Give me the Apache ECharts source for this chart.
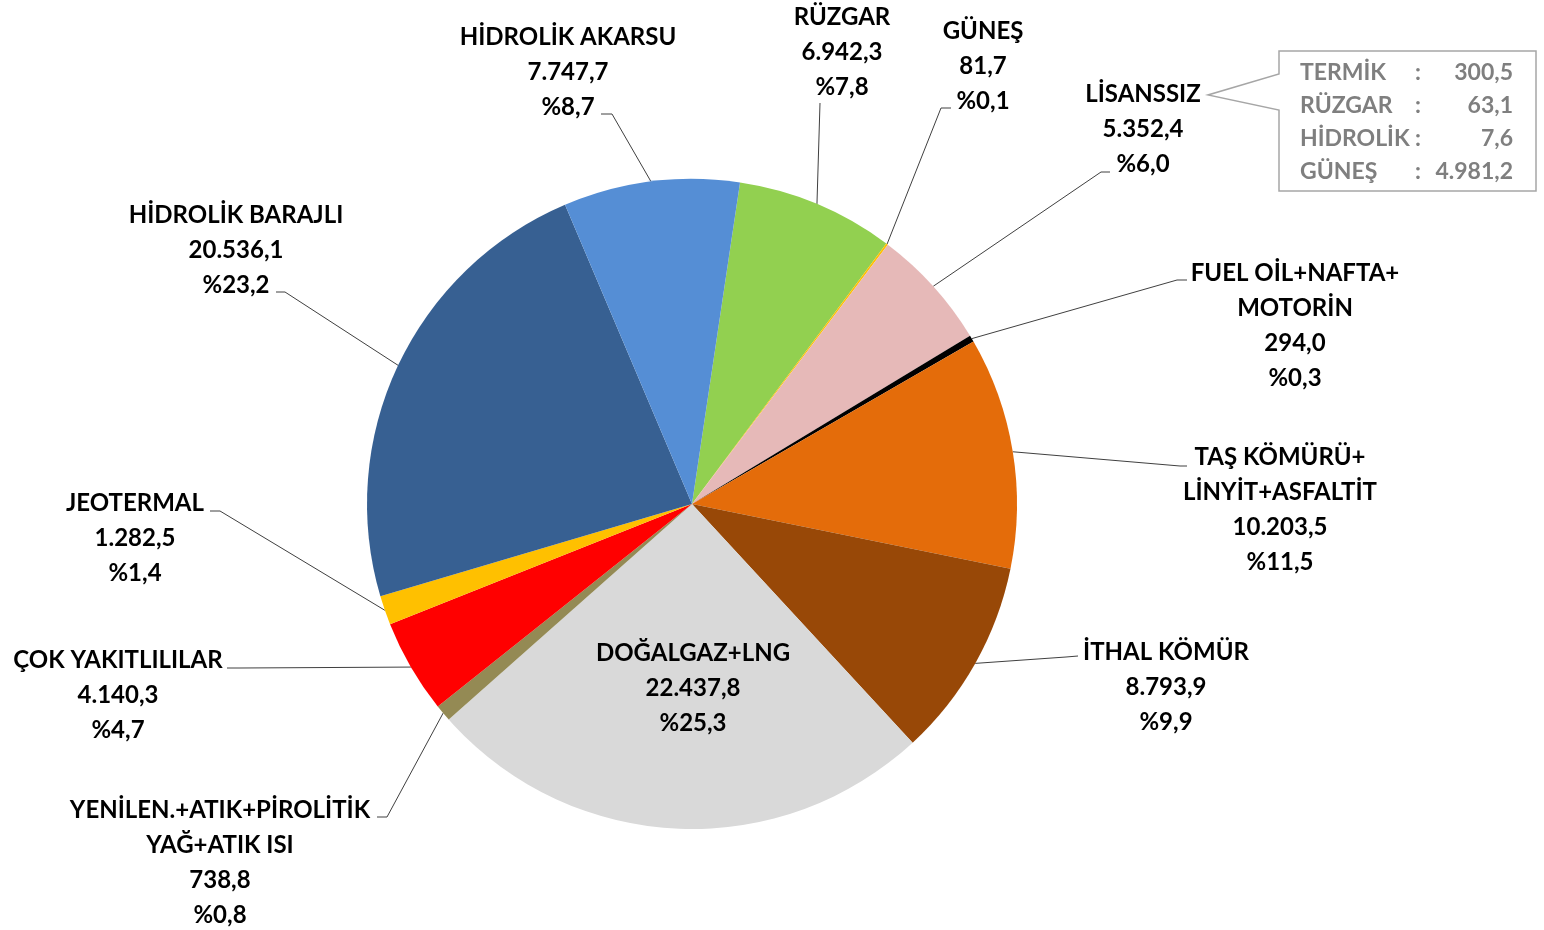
<!DOCTYPE html>
<html><head><meta charset="utf-8">
<script src="https://cdn.jsdelivr.net/npm/echarts@6/dist/echarts.min.js"></script>
<style>html,body{margin:0;padding:0;background:#fff}#c{width:1544px;height:930px}</style>
</head><body><div id="c"></div>
<script>
// ---- data ----
const categories = ['RÜZGAR', 'GÜNEŞ', 'LİSANSSIZ', 'FUEL OİL+NAFTA+\nMOTORİN', 'TAŞ KÖMÜRÜ+\nLİNYİT+ASFALTİT',
  'İTHAL KÖMÜR', 'DOĞALGAZ+LNG', 'YENİLEN.+ATIK+PİROLİTİK\nYAĞ+ATIK ISI', 'ÇOK YAKITLILILAR', 'JEOTERMAL',
  'HİDROLİK BARAJLI', 'HİDROLİK AKARSU'];
const values = [6942.3, 81.7, 5352.4, 294.0, 10203.5, 8793.9, 22437.8, 738.8, 4140.3, 1282.5, 20536.1, 7747.7];
const insetLabels = ['TERMİK', 'RÜZGAR', 'HİDROLİK', 'GÜNEŞ'];
const insetValues = [300.5, 63.1, 7.6, 4981.2];

// ---- styles / layout ----
const colors = ['#92D050', '#FFC000', '#E6B9B8', '#000000', '#E46C0A', '#984807', '#D9D9D9', '#948A54',
  '#FF0000', '#FFC000', '#376092', '#558ED5'];
// label block: center x, first line center y, leader line points after the slice edge
const labelPos = [
  { cx: 842, cy: 17, line: [[820, 103]] },
  { cx: 983, cy: 31, line: [[941, 108], [951, 108]] },
  { cx: 1143, cy: 94, line: [[1101, 172], [1110, 172]] },
  { cx: 1295, cy: 273, line: [[1177, 280], [1187, 280]] },
  { cx: 1280, cy: 457, line: [[1180, 466], [1187, 466]] },
  { cx: 1166, cy: 652, line: [[1066, 657], [1078, 656]] },
  { cx: 693, cy: 653, line: null },
  { cx: 220, cy: 810, line: [[387, 817], [377, 817]] },
  { cx: 118, cy: 660, line: [[240, 668], [227, 668]] },
  { cx: 135, cy: 503, line: [[220, 511], [210, 511]] },
  { cx: 236, cy: 215, line: [[285, 292], [276, 292]] },
  { cx: 568, cy: 37, line: [[612, 114], [601, 114]] }
];
const FONT = 'Lato, "Open Sans", sans-serif';
const LH = 35;
const CX = 692, CY = 504, R = 325, START = 81.5;

const total = values.reduce((a, b) => a + b, 0);
function fmt(v) {
  const s = v.toFixed(1).split('.');
  return s[0].replace(/\B(?=(\d{3})+(?!\d))/g, '.') + ',' + s[1];
}
function pct(v) { return '%' + (v / total * 100).toFixed(1).replace('.', ','); }

const chart = echarts.init(document.getElementById('c'), null, { renderer: 'canvas' });

const graphics = [{
  type: 'polygon',
  shape: { points: [[1279, 51], [1536, 51], [1536, 191], [1279, 191], [1279, 110], [1208, 95], [1279, 74]] },
  style: { fill: '#fff', stroke: '#A6A6A6', lineWidth: 1.5 }
}];
insetLabels.forEach((lab, i) => {
  const y = 73 + i * 33;
  const st = { fill: '#7F7F7F', font: 'bold 23px ' + FONT, textVerticalAlign: 'middle' };
  graphics.push({ type: 'text', left: null, x: 1300, y: y, style: Object.assign({ text: lab, textAlign: 'left' }, st) });
  graphics.push({ type: 'text', x: 1418, y: y, style: Object.assign({ text: ':', textAlign: 'center' }, st) });
  graphics.push({ type: 'text', x: 1513, y: y, style: Object.assign({ text: fmt(insetValues[i]), textAlign: 'right' }, st) });
});

chart.setOption({
  animation: false,
  backgroundColor: '#fff',
  graphic: graphics,
  series: [{
    type: 'pie',
    center: [CX, CY],
    radius: R,
    startAngle: START,
    clockwise: true,
    avoidLabelOverlap: false,
    percentPrecision: 1,
    itemStyle: { borderWidth: 0 },
    emphasis: { disabled: true },
    label: {
      show: true,
      position: 'outside',
      fontFamily: FONT,
      fontWeight: 'bold',
      fontSize: 24,
      lineHeight: LH,
      color: '#000',
      align: 'center',
      formatter: p => p.name + '\n' + fmt(p.value) + '\n' + pct(p.value)
    },
    labelLine: { show: true, lineStyle: { color: '#404040', width: 1 } },
    labelLayout: function (params) {
      const i = params.dataIndex;
      const lp = labelPos[i];
      const res = { x: lp.cx, y: lp.cy - LH / 2, align: 'center', verticalAlign: 'top' };
      if (lp.line) {
        let s = params.labelLinePoints && params.labelLinePoints[0];
        if (!s) {
          let before = 0;
          for (let k = 0; k < i; k++) before += values[k];
          const a = (90 - START + (before + values[i] / 2) / total * 360) * Math.PI / 180;
          s = [CX + R * Math.sin(a), CY - R * Math.cos(a)];
        }
        res.labelLinePoints = [[s[0], s[1]]].concat(lp.line.map(q => [q[0], q[1]]));
      }
      return res;
    },
    data: categories.map((c, i) => ({
      name: c,
      value: values[i],
      itemStyle: { color: colors[i] },
      labelLine: { show: !!labelPos[i].line }
    }))
  }]
});
</script>
</body></html>
